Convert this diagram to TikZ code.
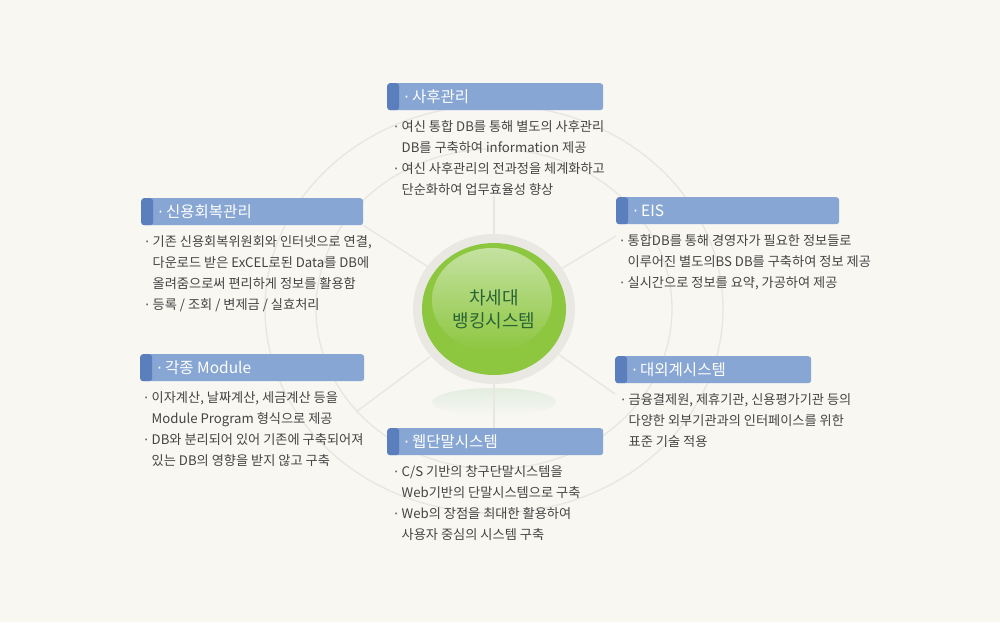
\documentclass[tikz,border=0pt]{standalone}
\usepackage{fontspec}
\setmainfont{Noto Sans CJK KR}
\newfontfamily\dotfont{DejaVu Sans}
\usetikzlibrary{positioning, shapes.geometric}

\definecolor{bgc}{HTML}{F8F7F2}
\definecolor{hdblue}{HTML}{87A6D3}
\definecolor{hddark}{HTML}{5B7EBC}
\definecolor{txtgray}{HTML}{444444}
\definecolor{ringline}{HTML}{E8E6E0}
\definecolor{ballring}{HTML}{E9E8E3}
\definecolor{ballgreen}{HTML}{8DC63F}
\definecolor{balllight}{HTML}{C4E2A0}
\definecolor{titlegreen}{HTML}{2A6434}
\definecolor{reflgreen}{HTML}{E3EDDF}

\newcommand{\dotitem}{\makebox[7.5pt][l]{\dotfont ·}}
\newcommand{\contline}{\hspace*{7.5pt}}
\newcommand{\hddot}{\makebox[8pt][l]{\dotfont ·}}

\begin{document}
\begin{tikzpicture}[x=1pt, y=-1pt,
  hdr/.style={anchor=north west, fill=hdblue, rounded corners=3pt, minimum height=27pt, inner sep=0pt,
    path picture={\fill[hddark] (path picture bounding box.south west) rectangle ([xshift=12pt]path picture bounding box.north west);}},
  hdtxt/.style={anchor=west, text=white, inner sep=0pt, font=\fontsize{15.5pt}{17pt}\selectfont},
  body/.style={anchor=north west, inner sep=0pt, align=left, text=txtgray, font=\fontsize{13.2pt}{21pt}\selectfont},
  spoke/.style={draw=ringline, line width=1.3pt}]
\fill[bgc] (0,0) rectangle (1000,622);
\useasboundingbox (0,0) rectangle (1000,622);

% rings behind everything
\coordinate (c) at (494,309);
\draw[ringline, line width=1.3pt] (c) ellipse [x radius=229, y radius=204];
\draw[ringline, line width=1.3pt] (c) ellipse [x radius=178, y radius=160];

% headers
\node[hdr, minimum width=216pt] (sahu) at (387,83) {};
\node[hdtxt] (sahut) at ([xshift=17pt]sahu.west) {\hddot 사후관리};
\node[hdr, minimum width=222pt] (credit) at (141,198) {};
\node[hdtxt] (creditt) at ([xshift=17pt]credit.west) {\hddot 신용회복관리};
\node[hdr, minimum width=223pt] (eis) at (616,197) {};
\node[hdtxt] (eist) at ([xshift=17pt]eis.west) {\hddot EIS};
\node[hdr, minimum width=224pt] (module) at (140,354) {};
\node[hdtxt] (modulet) at ([xshift=17pt]module.west) {\hddot 각종 Module};
\node[hdr, minimum width=196pt] (extern) at (615,356) {};
\node[hdtxt] (externt) at ([xshift=17pt]extern.west) {\hddot 대외계시스템};
\node[hdr, minimum width=216pt] (web) at (387,428) {};
\node[hdtxt] (webt) at ([xshift=17pt]web.west) {\hddot 웹단말시스템};

% texts
\node[body] (sahub) at ([xshift=7pt, yshift=-10pt]sahu.south west)
  {\dotitem 여신 통합 DB를 통해 별도의 사후관리\\
   \contline DB를 구축하여 information 제공\\
   \dotitem 여신 사후관리의 전과정을 체계화하고\\
   \contline 단순화하여 업무효율성 향상};
\node[body] (creditb) at ([xshift=4pt, yshift=-10pt]credit.south west)
  {\dotitem 기존 신용회복위원회와 인터넷으로 연결,\\
   \contline 다운로드 받은 ExCEL로된 Data를 DB에\\
   \contline 올려줌으로써 편리하게 정보를 활용함\\
   \dotitem 등록 / 조회 / 변제금 / 실효처리};
\node[body] (eisb) at ([xshift=4pt, yshift=-10pt]eis.south west)
  {\dotitem 통합DB를 통해 경영자가 필요한 정보들로\\
   \contline 이루어진 별도의BS DB를 구축하여 정보 제공\\
   \dotitem 실시간으로 정보를 요약, 가공하여 제공};
\node[body] (moduleb) at ([xshift=4pt, yshift=-10pt]module.south west)
  {\dotitem 이자계산, 날짜계산, 세금계산 등을\\
   \contline Module Program 형식으로 제공\\
   \dotitem DB와 분리되어 있어 기존에 구축되어져\\
   \contline 있는 DB의 영향을 받지 않고 구축};
\node[body] (externb) at ([xshift=6pt, yshift=-10pt]extern.south west)
  {\dotitem 금융결제원, 제휴기관, 신용평가기관 등의\\
   \contline 다양한 외부기관과의 인터페이스를 위한\\
   \contline 표준 기술 적용};
\node[body] (webb) at ([xshift=7pt, yshift=-10pt]web.south west)
  {\dotitem C/S 기반의 창구단말시스템을\\
   \contline Web기반의 단말시스템으로 구축\\
   \dotitem Web의 장점을 최대한 활용하여\\
   \contline 사용자 중심의 시스템 구축};

% centre ball
\shade[top color=reflgreen, bottom color=bgc] (494,402) ellipse [x radius=62, y radius=14];
\node[ellipse, fill=ballring, minimum width=162pt, minimum height=150pt, inner sep=0pt] (ball) at (c) {};
\fill[ballgreen] (ball.center) ellipse [x radius=72, y radius=66];
\shade[top color=balllight, bottom color=ballgreen] (492,300) ellipse [x radius=60, y radius=52];
\node[text=titlegreen, align=center, font=\fontsize{18pt}{23pt}\selectfont] (title) at (c) {차세대\\뱅킹시스템};

% spokes
\coordinate (eisend) at (616,236);
\coordinate (moduleend) at (356,412);
\coordinate (externend) at (615,394);
\draw[spoke] (ball.north) -- (ball.north |- sahub.south);
\draw[spoke] (ball.south) -- (ball.south |- web.north);
\draw[spoke] (ball) -- (credit.south east);
\draw[spoke] (ball) -- (eisend);
\draw[spoke] (ball) -- (moduleend);
\draw[spoke] (ball) -- (externend);
\end{tikzpicture}
\end{document}
